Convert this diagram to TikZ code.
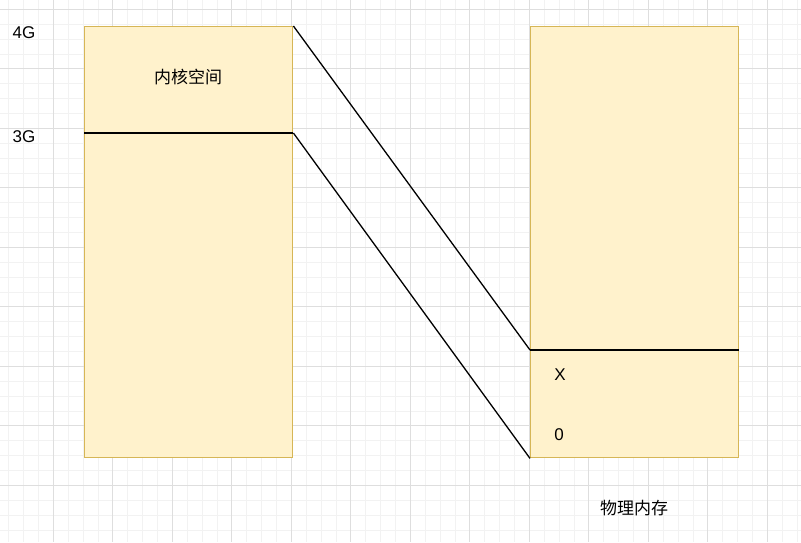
\documentclass[tikz,border=0pt]{standalone}
\usepackage{fontspec}
\setmainfont{Liberation Sans}
\newfontfamily\cjk{Noto Sans CJK SC}
\definecolor{boxfill}{HTML}{FFF2CC}
\definecolor{boxdraw}{HTML}{D6B656}
\definecolor{gridminor}{HTML}{F2F2F2}
\definecolor{gridmajor}{HTML}{DEDEDE}
\begin{document}
\begin{tikzpicture}[x=1pt,y=-1pt,
  membox/.style={draw=boxdraw,fill=boxfill,line width=1.4pt,minimum width=208pt,minimum height=431pt,inner sep=0pt,anchor=north west},
  wire/.style={draw=black,line width=1.3pt},
  lbl/.style={font=\fontsize{17}{20}\selectfont,inner sep=0pt},
  cjklbl/.style={font=\cjk\fontsize{17}{20}\selectfont,inner sep=0pt}]
\useasboundingbox (0,0) rectangle (801,542);
\fill[white] (0,0) rectangle (801,542);
% grid
\foreach \k in {0,...,54} {
  \pgfmathsetmacro{\gx}{-6.2+\k*14.875}
  \draw[gridminor,line width=0.8pt] (\gx,0) -- (\gx,542);
}
\foreach \k in {0,...,37} {
  \pgfmathsetmacro{\gy}{-5.6+\k*14.875}
  \draw[gridminor,line width=0.8pt] (0,\gy) -- (801,\gy);
}
\foreach \k in {0,...,13} {
  \pgfmathsetmacro{\gx}{-6.2+\k*59.5}
  \draw[gridmajor,line width=1pt] (\gx,0) -- (\gx,542);
}
\foreach \k in {0,...,9} {
  \pgfmathsetmacro{\gy}{-50.2+\k*59.5}
  \draw[gridmajor,line width=1pt] (0,\gy) -- (801,\gy);
}
% boxes
\node[membox] (L) at (84,26) {};
\node[membox] (R) at (530,26) {};
% dividing lines
\coordinate (ldiv) at (L.west |- 0,133);
\coordinate (ldivE) at (L.east |- 0,133);
\coordinate (rdiv) at (R.west |- 0,350);
\coordinate (rdivE) at (R.east |- 0,350);
\draw[wire] (ldiv) -- (ldivE);
\draw[wire] (rdiv) -- (rdivE);
% connectors
\draw[wire] (L.north east) -- (rdiv);
\draw[wire] (ldivE) -- (R.south west);
% labels
\node[lbl] (g4) at (24,33) {4G};
\node[lbl] (g3) at (24,137) {3G};
\node[cjklbl] (kern) at (188,77) {内核空间};
\node[lbl] (x) at (560,375) {X};
\node[lbl] (zero) at (559,435) {0};
\node[cjklbl] (phys) at (634,508) {物理内存};
\end{tikzpicture}
\end{document}
